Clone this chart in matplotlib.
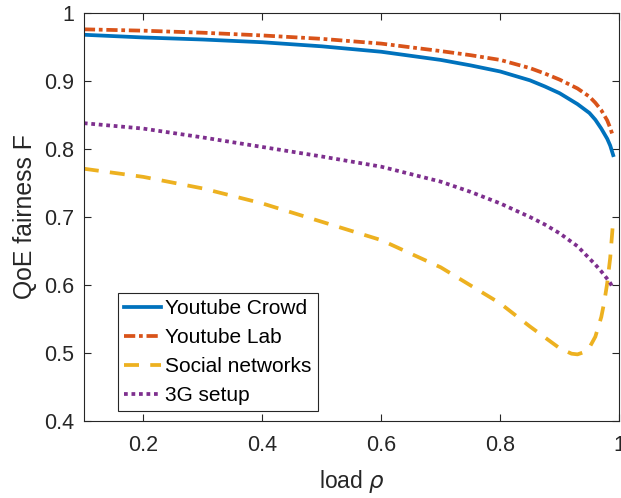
import matplotlib
matplotlib.use("Agg")
import matplotlib.pyplot as plt

# ---- data ----
load_x = [0.1, 0.2, 0.3, 0.4, 0.5, 0.6, 0.7, 0.75, 0.8, 0.85, 0.875, 0.9, 0.93, 0.95, 0.96, 0.97, 0.98, 0.985, 0.99]
youtube_crowd = [0.968, 0.964, 0.961, 0.957, 0.951, 0.943, 0.931, 0.923, 0.914, 0.901, 0.892, 0.882, 0.866, 0.853, 0.843, 0.830, 0.815, 0.805, 0.791]
youtube_lab = [0.976, 0.974, 0.971, 0.967, 0.962, 0.955, 0.944, 0.938, 0.931, 0.919, 0.911, 0.902, 0.889, 0.877, 0.868, 0.857, 0.842, 0.831, 0.818]
setup_3g = [0.838, 0.830, 0.817, 0.803, 0.789, 0.774, 0.752, 0.737, 0.720, 0.700, 0.689, 0.676, 0.657, 0.639, 0.630, 0.620, 0.609, 0.603, 0.595]

social_x = [0.1, 0.2, 0.3, 0.4, 0.5, 0.6, 0.7, 0.8, 0.85, 0.9, 0.92, 0.93, 0.94, 0.95, 0.96, 0.97, 0.975, 0.98, 0.985, 0.99]
social = [0.771, 0.759, 0.742, 0.720, 0.693, 0.666, 0.626, 0.573, 0.539, 0.507, 0.499, 0.498, 0.501, 0.508, 0.524, 0.553, 0.575, 0.603, 0.640, 0.695]

labels = ["Youtube Crowd", "Youtube Lab", "Social networks", "3G setup"]
xticks = [0.2, 0.4, 0.6, 0.8, 1.0]
xtick_labels = ["0.2", "0.4", "0.6", "0.8", "1"]
yticks = [0.4, 0.5, 0.6, 0.7, 0.8, 0.9, 1.0]
ytick_labels = ["0.4", "0.5", "0.6", "0.7", "0.8", "0.9", "1"]

plt.rcParams['font.family'] = ['Liberation Sans', 'DejaVu Sans']

fig = plt.figure(figsize=(6.21, 4.98), dpi=100)
ax = fig.add_axes([0.135, 0.1546, 0.862, 0.8193])

lw = 2.7
ax.plot(load_x, youtube_crowd, color='#0072BD', lw=lw, linestyle='-', label=labels[0])
ax.plot(load_x, youtube_lab, color='#D95319', lw=lw, linestyle=(0, (3.0, 1.0, 1.0, 1.0)), label=labels[1])
ax.plot(social_x, social, color='#EDB120', lw=lw, linestyle=(0, (4.0, 3.0)), label=labels[2])
ax.plot(load_x, setup_3g, color='#7E2F8E', lw=lw, linestyle=(0, (1.0, 1.0)), label=labels[3])

ax.set_xlim(0.1, 1.0)
ax.set_ylim(0.4, 1.0)
ax.set_xticks(xticks)
ax.set_xticklabels(xtick_labels)
ax.set_yticks(yticks)
ax.set_yticklabels(ytick_labels)

dark = '#262626'
for s in ax.spines.values():
    s.set_color(dark)
    s.set_linewidth(0.8)
ax.tick_params(direction='in', length=5, width=0.8, colors=dark, labelsize=15.5,
               top=True, right=True)
ax.tick_params(axis='x', pad=10)
ax.tick_params(axis='y', pad=7)
ax.set_xlabel(r"load $\rho$", fontsize=16.5, color=dark, labelpad=9)
ax.set_ylabel("QoE fairness F", fontsize=17.8, color=dark, labelpad=5)

leg = ax.legend(loc='lower left', bbox_to_anchor=(0.0635, 0.0245), borderaxespad=0,
                fontsize=15, fancybox=False, framealpha=1, edgecolor=dark,
                handlelength=1.78, handletextpad=0.2, labelspacing=0.48, borderpad=0.29)
leg.get_frame().set_linewidth(0.8)
for t in leg.get_texts():
    t.set_color('black')

fig.savefig("out.png", dpi=100)
